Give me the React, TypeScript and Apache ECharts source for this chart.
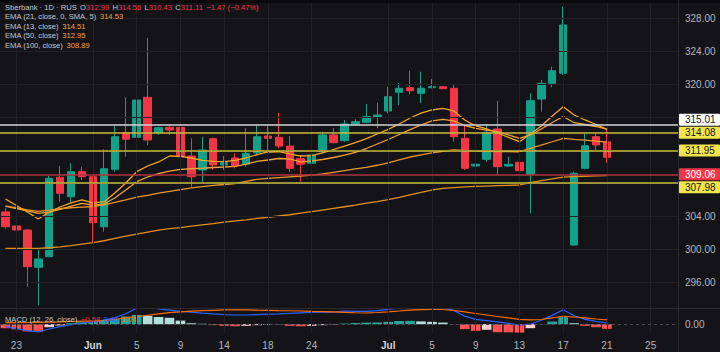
import React, { useEffect, useRef } from "react";
import * as echarts from "echarts";

// ---------- data ----------
const dates = [
  "2025-05-22", "2025-05-23", "2025-05-26", "2025-05-27", "2025-05-28", "2025-05-29", "2025-05-30", "2025-05-31",
  "2025-06-01", "2025-06-02", "2025-06-03", "2025-06-04", "2025-06-05", "2025-06-06", "2025-06-07", "2025-06-08",
  "2025-06-09", "2025-06-10", "2025-06-11", "2025-06-13", "2025-06-14", "2025-06-15", "2025-06-16", "2025-06-17",
  "2025-06-18", "2025-06-19", "2025-06-20", "2025-06-23", "2025-06-24", "2025-06-25", "2025-06-26", "2025-06-27",
  "2025-06-28", "2025-06-29", "2025-06-30", "2025-07-01", "2025-07-02", "2025-07-03", "2025-07-04", "2025-07-05",
  "2025-07-06", "2025-07-07", "2025-07-08", "2025-07-09", "2025-07-10", "2025-07-11", "2025-07-12", "2025-07-13",
  "2025-07-14", "2025-07-15", "2025-07-16", "2025-07-17", "2025-07-18", "2025-07-19", "2025-07-20", "2025-07-21",
  "2025-07-22", "2025-07-23", "2025-07-24", "2025-07-25", "2025-07-26", "2025-07-27",
];
const shownDates = [
  "2025-05-23", "2025-06-01", "2025-06-05", "2025-06-09", "2025-06-14", "2025-06-18", "2025-06-24",
  "2025-07-01", "2025-07-05", "2025-07-09", "2025-07-13", "2025-07-17", "2025-07-21", "2025-07-25",
];
const monthNames = ["Jan", "Feb", "Mar", "Apr", "May", "Jun", "Jul", "Aug", "Sep", "Oct", "Nov", "Dec"];

const opens = [304.5, 302.79, 302.3, 297.78, 299.07, 308.69, 306.34, 309.37, 308.76, 302.7, 309.66, 314.1, 313.54, 318.39, 314.1, 314.75, 314.75, 311.27, 309.58, 313.37, 310.18, 311.03, 310.27, 311.67, 313.7, 313.54, 312.48, 310.95, 310.39, 311.79, 313.82, 313.13, 315.15, 315.36, 315.96, 316.73, 319.0, 319.55, 318.87, 319.55, 319.67, 319.48, 313.42, 310.06, 310.87, 314.55, 310.06, 310.51, 309.05, 318.18, 320.08, 321.3, 300.48, 309.78, 313.61, 312.99];
const closes = [302.7, 302.3, 297.86, 298.79, 308.57, 306.75, 309.37, 308.76, 303.19, 309.73, 313.61, 313.3, 318.06, 313.21, 314.7, 314.42, 311.19, 308.76, 312.0, 310.18, 310.46, 310.1, 311.6, 313.61, 313.42, 312.48, 309.78, 310.27, 311.39, 313.82, 312.89, 315.15, 315.43, 316.04, 316.24, 318.46, 319.48, 319.19, 319.48, 319.67, 319.43, 313.61, 309.78, 310.27, 314.1, 309.98, 310.27, 309.49, 317.98, 320.08, 321.61, 327.15, 309.18, 312.52, 312.61, 311.11];
const lows = [302.5, 301.49, 295.43, 293.21, 299.0, 305.73, 305.53, 308.36, 300.77, 302.1, 309.37, 311.19, 313.21, 312.6, 313.82, 313.82, 310.18, 307.55, 308.16, 309.58, 309.58, 309.78, 309.98, 311.39, 311.79, 312.21, 309.37, 308.16, 309.18, 311.6, 312.81, 313.0, 315.03, 315.24, 314.63, 316.45, 317.45, 318.75, 317.66, 319.48, 319.4, 313.0, 309.58, 307.76, 310.58, 308.97, 309.98, 308.97, 304.33, 316.64, 319.6, 321.09, 300.4, 309.66, 312.0, 310.43];
const highs = [305.0, 304.52, 302.4, 300.09, 308.85, 310.06, 310.39, 309.98, 308.9, 312.08, 315.03, 318.39, 318.67, 325.58, 314.83, 315.03, 315.64, 313.42, 313.61, 313.5, 311.27, 311.6, 314.63, 315.03, 314.91, 316.52, 313.7, 311.39, 312.0, 314.22, 314.63, 315.64, 315.72, 317.58, 317.73, 319.67, 320.16, 321.61, 321.49, 320.61, 319.7, 320.0, 315.03, 312.4, 315.15, 317.94, 311.19, 310.79, 318.87, 320.48, 322.1, 329.37, 309.37, 314.02, 314.02, 314.56];

const ema21sma5 = [305.21, 304.91, 304.61, 304.33, 304.48, 304.79, 305.21, 305.52, 305.33, 305.45, 306.18, 307.15, 308.16, 308.73, 309.15, 309.45, 309.64, 309.73, 309.79, 309.88, 309.94, 310.02, 310.3, 310.61, 310.79, 310.97, 310.91, 310.55, 310.67, 310.85, 311.09, 311.39, 311.7, 312.18, 312.73, 313.27, 313.88, 314.48, 315.03, 315.52, 315.72, 315.52, 314.97, 314.63, 314.42, 314.22, 313.82, 313.42, 313.82, 314.55, 315.33, 316.06, 315.31, 315.09, 314.85, 314.53];
const ema13 = [306.06, 305.27, 304.48, 303.64, 304.48, 305.09, 305.58, 305.94, 305.58, 305.7, 306.79, 308.0, 309.37, 310.06, 310.55, 311.27, 311.23, 311.03, 310.75, 310.63, 310.58, 310.73, 311.03, 311.44, 311.76, 311.79, 311.52, 311.27, 311.33, 311.64, 312.06, 312.48, 312.89, 313.39, 313.94, 314.51, 315.15, 315.88, 316.48, 316.85, 317.05, 316.73, 315.64, 314.91, 314.55, 314.06, 313.52, 313.01, 313.94, 314.91, 316.12, 317.25, 316.24, 315.64, 315.09, 314.51];
const ema50 = [305.2, 305.0, 304.75, 304.55, 304.7, 304.88, 305.0, 305.08, 305.15, 305.35, 305.65, 305.95, 306.28, 306.5, 306.78, 306.98, 307.2, 307.4, 307.55, 307.7, 307.82, 307.93, 308.2, 308.45, 308.55, 308.65, 308.75, 308.85, 308.95, 309.1, 309.3, 309.5, 309.7, 309.9, 310.15, 310.45, 310.8, 311.15, 311.4, 311.65, 311.85, 312.0, 311.95, 311.9, 311.85, 311.82, 311.8, 311.79, 312.2, 312.6, 313.0, 313.42, 313.3, 313.2, 313.08, 312.95];
const ema100 = [300.08, 300.08, 300.08, 300.08, 300.15, 300.25, 300.4, 300.58, 300.76, 301.0, 301.3, 301.57, 301.8, 302.05, 302.28, 302.46, 302.6, 302.78, 302.93, 303.08, 303.25, 303.4, 303.53, 303.7, 303.85, 304.0, 304.15, 304.35, 304.52, 304.72, 304.92, 305.12, 305.32, 305.55, 305.75, 305.98, 306.25, 306.55, 306.85, 307.15, 307.36, 307.45, 307.52, 307.58, 307.63, 307.68, 307.72, 307.76, 308.05, 308.3, 308.5, 308.7, 308.78, 308.82, 308.86, 308.89];

const macdHist = [-0.5, -0.62, -0.9, -0.95, -0.38, -0.15, 0.12, 0.25, 0.3, 0.45, 0.7, 0.95, 1.15, 1.05, 0.9, 0.8, 0.45, 0.12, 0.05, -0.12, -0.2, -0.25, -0.2, -0.12, -0.08, -0.03, -0.2, -0.25, -0.2, -0.12, -0.05, 0.08, 0.15, 0.2, 0.22, 0.3, 0.4, 0.42, 0.35, 0.3, 0.2, -0.02, -0.62, -0.83, -0.7, -1.0, -1.02, -1.05, -0.5, 0.03, 0.33, 0.88, 0.12, -0.2, -0.38, -0.58];
const macdLine = [-0.3, -0.55, -0.8, -0.95, -0.6, -0.3, -0.05, 0.15, 0.3, 0.5, 0.8, 1.3, 2.0, 2.2, 1.9, 1.75, 1.6, 1.5, 1.38, 1.28, 1.2, 1.15, 1.15, 1.2, 1.25, 1.3, 1.36, 1.42, 1.46, 1.5, 1.52, 1.65, 1.6, 1.6, 1.7, 1.85, 2.0, 2.1, 2.2, 2.2, 2.05, 1.72, 1.0, 0.6, 0.45, 0.3, 0.1, -0.1, 0.0, 0.5, 1.1, 1.8, 1.05, 0.6, 0.35, 0.15];
const signalLine = [0.19, 0.2, 0.21, 0.24, 0.27, 0.3, 0.34, 0.38, 0.4, 0.46, 0.59, 0.78, 0.93, 1.12, 1.3, 1.44, 1.53, 1.63, 1.69, 1.74, 1.78, 1.78, 1.78, 1.75, 1.73, 1.7, 1.68, 1.65, 1.61, 1.58, 1.53, 1.48, 1.43, 1.4, 1.46, 1.55, 1.65, 1.75, 1.83, 1.86, 1.84, 1.71, 1.53, 1.34, 1.15, 0.96, 0.78, 0.61, 0.53, 0.59, 0.78, 0.99, 0.9, 0.78, 0.65, 0.53];

const priceTicks = [296, 300, 304, 320, 324, 328];
const gridPrices = [296, 300, 304, 308, 312, 316, 320, 324, 328];
const macdTicks = [0];
const levelValues = [315.01, 314.08, 311.95, 309.06, 307.98];
const levelKinds = ["white", "yellow", "yellow", "red", "yellow"];
const levelOrder = [1, 2, 3, 0, 4];

const legendOHLC = { o: "312.99", h: "314.56", l: "310.43", c: "311.11", chg: "\u22121.47 (\u22120.47%)" };
const emaLegend = [
  { name: "EMA (21, close, 0, SMA, 5)", value: "314.53" },
  { name: "EMA (13, close)", value: "314.51" },
  { name: "EMA (50, close)", value: "312.95" },
  { name: "EMA (100, close)", value: "308.89" },
];
const macdLegend = { name: "MACD (12, 26, close)", hist: "\u22120.58", macd: "0.46", signal: "1.04" };

// ---------- styles ----------
const FONT = '"Liberation Sans", Arial, sans-serif';
const BG = "#141418";
const GRID = "#202025";
const UP = "#12a088";
const DOWN = "#f23645";
const AXIS_TXT = "#b2b5be";
const LEGEND_TXT = "#c5c7ce";
const ORANGE = "#f5a33b";
const TEAL = "#26a69a";
const LTEAL = "#b2dfdb";
const HRED = "#ff5252";
const PINK = "#ffcdd2";
const BLUE = "#2962ff";
const SIG = "#ff6d00";
const levelStyle: Record<string, { line: string; bg: string; fg: string }> = {
  white: { line: "#d4d5d9", bg: "#ffffff", fg: "#131722" },
  yellow: { line: "#c9ba3c", bg: "#f4e44c", fg: "#131722" },
  red: { line: "#b0303d", bg: "#f23645", fg: "#ffffff" },
};

const PX_PER_UNIT = 8.25;
const PRICE_MAX = 328 + 18 / PX_PER_UNIT;
const PRICE_MIN = PRICE_MAX - 308 / PX_PER_UNIT;

function fmtDate(v: string) {
  const d = parseInt(v.slice(8, 10), 10);
  const m = parseInt(v.slice(5, 7), 10);
  return d === 1 ? "{m|" + monthNames[m - 1] + "}" : String(d);
}

export default function App() {
  const ref = useRef<HTMLDivElement>(null);
  useEffect(() => {
    if (!ref.current) return;
    const chart = echarts.init(ref.current, null, { renderer: "svg" });
    const candleData = opens.map((o, i) => [o, closes[i], lows[i], highs[i]]);
    const histData = macdHist.map((v, i) => {
      const prev = i > 0 ? macdHist[i - 1] : null;
      let c: string;
      if (v >= 0) c = prev === null || v >= prev ? TEAL : LTEAL;
      else c = prev === null || v <= prev ? HRED : PINK;
      return { value: v, itemStyle: { color: c } };
    });
    const showLabel = (_i: number, v: string) => shownDates.indexOf(v) >= 0;

    const option: any = {
      backgroundColor: BG,
      animation: false,
      grid: [
        { left: -8, width: 686, top: 0, height: 308 },
        { left: -8, width: 686, top: 309, height: 24 },
      ],
      xAxis: [
        {
          type: "category", gridIndex: 0, data: dates,
          axisLine: { show: false }, axisTick: { show: false }, axisLabel: { show: false }, splitLine: { show: false },
        },
        {
          type: "category", gridIndex: 1, data: dates,
          axisLine: { show: false }, axisTick: { show: false }, splitLine: { show: false },
          axisLabel: {
            interval: showLabel, formatter: fmtDate, color: AXIS_TXT, fontSize: 10, fontFamily: FONT, margin: 7,
            rich: { m: { fontWeight: "bold", fontSize: 10, fontFamily: FONT, color: "#d1d4dc" } },
          },
        },
      ],
      yAxis: [
        {
          type: "value", gridIndex: 0, position: "right", min: PRICE_MIN, max: PRICE_MAX,
          axisLine: { show: false }, axisTick: { show: false }, splitLine: { show: false },
          axisLabel: {
            customValues: priceTicks, formatter: (v: number) => v.toFixed(2),
            color: AXIS_TXT, fontSize: 10, fontFamily: FONT, margin: 7,
          },
        },
        {
          type: "value", gridIndex: 1, position: "right", min: -1.1, max: 1.9,
          axisLine: { show: false }, axisTick: { show: false }, splitLine: { show: false },
          axisLabel: {
            customValues: macdTicks, formatter: (v: number) => v.toFixed(2),
            color: AXIS_TXT, fontSize: 10, fontFamily: FONT, margin: 7,
          },
        },
      ],
      series: [
        {
          type: "line", xAxisIndex: 0, yAxisIndex: 0, data: closes, silent: true, z: 1,
          showSymbol: false, lineStyle: { opacity: 0 },
          markLine: {
            silent: true, symbol: "none", label: { show: false }, animation: false,
            lineStyle: { color: GRID, width: 1, type: "solid" },
            data: [
              ...gridPrices.map((p) => ({ yAxis: p })),
              ...shownDates.map((d) => ({ xAxis: d })),
            ],
          },
        },
        {
          type: "line", xAxisIndex: 1, yAxisIndex: 1, data: macdLine, silent: true, z: 1,
          showSymbol: false, lineStyle: { opacity: 0 },
          markLine: {
            silent: true, symbol: "none", label: { show: false }, animation: false,
            lineStyle: { color: GRID, width: 1, type: "solid" },
            data: shownDates.map((d) => ({ xAxis: d })),
          },
        },
        {
          type: "candlestick", xAxisIndex: 0, yAxisIndex: 0, data: candleData, barWidth: 8, z: 3,
          itemStyle: { color: UP, color0: DOWN, borderColor: UP, borderColor0: DOWN, borderWidth: 1 },
        },
        { type: "line", data: ema21sma5, showSymbol: false, z: 4, lineStyle: { width: 1.3, color: "#f0a13a" } },
        { type: "line", data: ema13, showSymbol: false, z: 4, lineStyle: { width: 1.3, color: "#f5a623" } },
        { type: "line", data: ema50, showSymbol: false, z: 4, lineStyle: { width: 1.3, color: "#e9962b" } },
        {
          type: "line", data: ema100, showSymbol: false, z: 4, lineStyle: { width: 1.3, color: "#e0901f" },
          markLine: {
            silent: true, symbol: "none", label: { show: false }, animation: false,
            data: levelValues.map((v, i) => ({
              yAxis: v,
              lineStyle: { color: levelStyle[levelKinds[i]].line, width: 1.5, type: "solid" },
            })),
          },
        },
        {
          type: "bar", xAxisIndex: 1, yAxisIndex: 1, data: histData, barCategoryGap: "12%", z: 2,
          markLine: {
            silent: true, symbol: "none", label: { show: false }, animation: false,
            lineStyle: { color: "#4a4a52", width: 1, type: [3, 3] },
            data: [{ yAxis: 0 }],
          },
        },
        { type: "line", xAxisIndex: 1, yAxisIndex: 1, data: macdLine, showSymbol: false, z: 3, lineStyle: { width: 1.2, color: BLUE } },
        { type: "line", xAxisIndex: 1, yAxisIndex: 1, data: signalLine, showSymbol: false, z: 3, lineStyle: { width: 1.2, color: SIG } },
      ],
    };
    chart.setOption(option);

    // price tags, positioned from the axis scale
    const TAG_H = 12;
    const desired = levelValues.map((v) => chart.convertToPixel({ yAxisIndex: 0 }, v) as number);
    const tagY: number[] = desired.slice();
    const placed: number[] = [];
    levelOrder.forEach((idx) => {
      let y = desired[idx];
      for (let k = 0; k < 10; k++) {
        let moved = false;
        for (const p of placed) {
          if (Math.abs(y - p) < TAG_H + 1) {
            y = desired[idx] < p ? p - TAG_H - 1 : p + TAG_H + 1;
            moved = true;
          }
        }
        if (!moved) break;
      }
      placed.push(y);
      tagY[idx] = y;
    });

    const rs = (fill: string, extra: any = {}) => ({ fill, fontSize: 7.6, fontFamily: FONT, ...extra });
    const graphics: any[] = [
      { type: "rect", shape: { x: 0, y: 0, width: 720, height: 3 }, style: { fill: "#09090b" }, z: 50 },
      { type: "line", shape: { x1: 0, y1: 308.5, x2: 720, y2: 308.5 }, style: { stroke: "#2a2a30", lineWidth: 1 }, z: 50 },
      { type: "line", shape: { x1: 678.5, y1: 0, x2: 678.5, y2: 352 }, style: { stroke: "#2a2a30", lineWidth: 1 }, z: 50 },
      {
        type: "text", x: 5, y: 7, z: 60,
        style: {
          text:
            "{t|Sberbank \u00b7 1D \u00b7 RUS} {k|O}{v|" + legendOHLC.o + "} {k|H}{v|" + legendOHLC.h +
            "} {k|L}{v|" + legendOHLC.l + "} {k|C}{v|" + legendOHLC.c + "} {v|" + legendOHLC.chg + "}",
          verticalAlign: "middle",
          rich: { t: rs(LEGEND_TXT), k: rs(LEGEND_TXT), v: rs(DOWN) },
        },
      },
      ...emaLegend.map((e, i) => ({
        type: "text", x: 5, y: 16.5 + i * 9.6, z: 60,
        style: {
          text: "{t|" + e.name + "} {v|" + e.value + "}",
          verticalAlign: "middle",
          rich: { t: rs(LEGEND_TXT), v: rs(ORANGE) },
        },
      })),
      {
        type: "text", x: 5, y: 319, z: 60,
        style: {
          text: "{t|" + macdLegend.name + "} {h|" + macdLegend.hist + "} {m|" + macdLegend.macd + "} {s|" + macdLegend.signal + "}",
          verticalAlign: "middle",
          rich: { t: rs(LEGEND_TXT), h: rs(DOWN), m: rs(BLUE), s: rs(SIG) },
        },
      },
      ...levelValues.map((v, i) => {
        const st = levelStyle[levelKinds[i]];
        return {
          type: "group", z: 70,
          children: [
            { type: "rect", shape: { x: 679, y: tagY[i] - TAG_H / 2, width: 41, height: TAG_H, r: 1 }, style: { fill: st.bg } },
            {
              type: "text", x: 685, y: tagY[i],
              style: { text: v.toFixed(2), fill: st.fg, fontSize: 10, fontFamily: FONT, verticalAlign: "middle" },
            },
          ],
        };
      }),
    ];
    chart.setOption({ graphic: graphics });

    return () => chart.dispose();
  }, []);
  return <div ref={ref} style={{ position: "fixed", left: 0, top: 0, width: 720, height: 352 }} />;
}
